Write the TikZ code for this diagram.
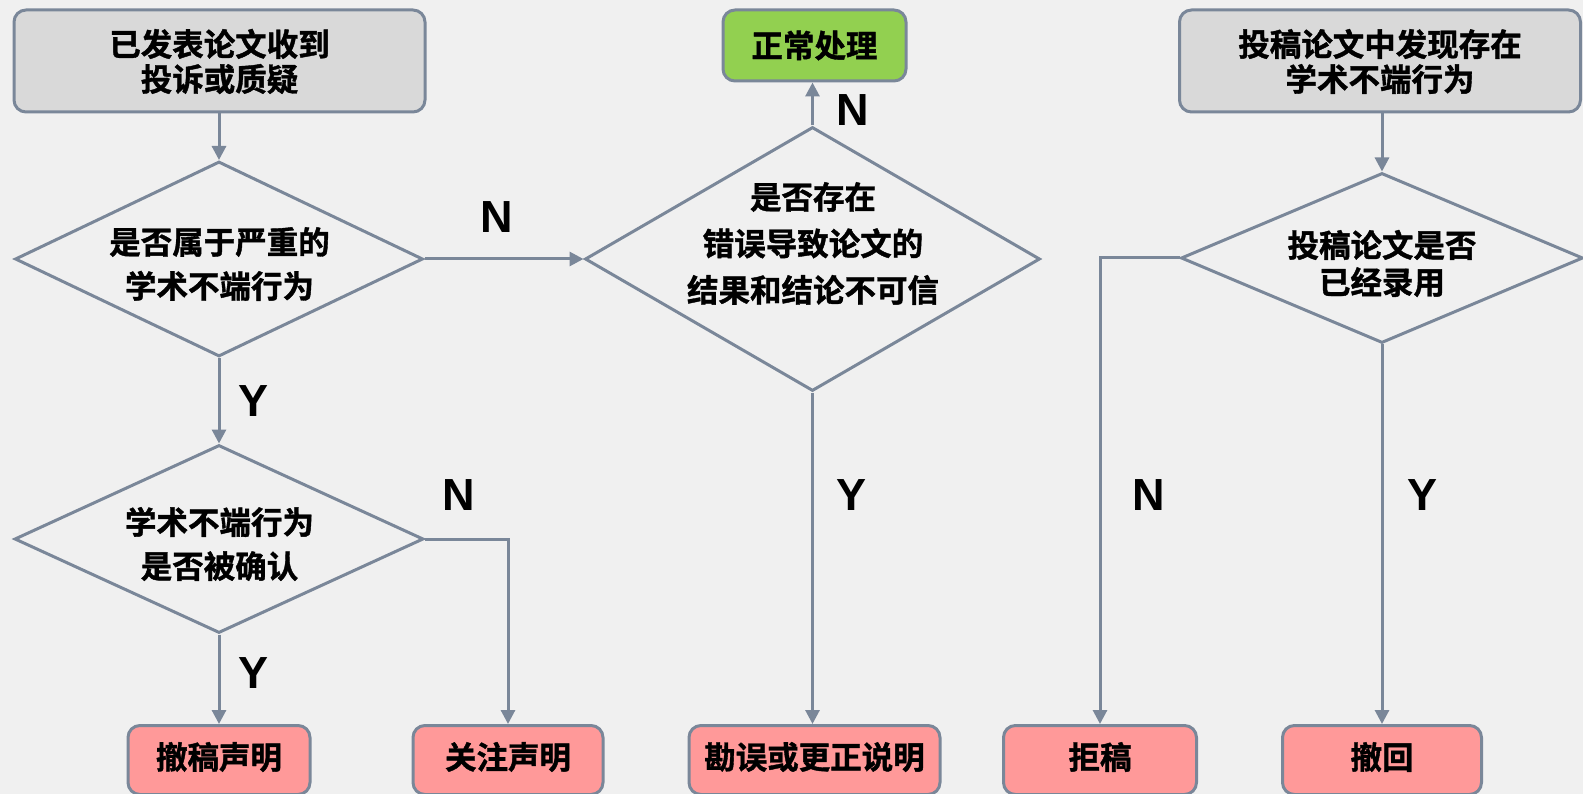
\documentclass[tikz,border=0pt]{standalone}
\usepackage{fontspec}
\setmainfont{Liberation Sans}
\newfontfamily\cjk{Noto Sans CJK SC}[BoldFont=* Bold, BoldFeatures={FakeBold=1.2}]
\usetikzlibrary{shapes.geometric,arrows.meta}
\definecolor{bgc}{RGB}{240,240,240}
\definecolor{edge}{RGB}{122,135,153}
\definecolor{grayfill}{RGB}{217,217,217}
\definecolor{greenfill}{RGB}{146,208,80}
\definecolor{pinkfill}{RGB}{255,153,153}
\tikzset{
  box/.style={draw=edge, line width=3pt, rounded corners=12pt, inner sep=0pt},
  startbox/.style={box, fill=grayfill, minimum width=411, minimum height=102},
  endbox/.style={box, fill=pinkfill, minimum height=69},
  okbox/.style={box, fill=greenfill, minimum width=183, minimum height=71},
  dia/.style={draw=edge, line width=3pt, diamond, inner sep=0pt, fill=bgc},
  txt/.style={align=center, inner sep=0pt, font=\cjk\bfseries\fontsize{31.5}{35}\selectfont},
  txtw/.style={align=center, inner sep=0pt, font=\cjk\bfseries\fontsize{31.5}{44}\selectfont},
  yn/.style={inner sep=0pt, font=\bfseries\fontsize{45}{45}\selectfont},
  conn/.style={draw=edge, line width=3pt, -{Triangle[width=14pt,length=14pt]}},
}
\begin{document}
\begin{tikzpicture}[x=1pt,y=-1pt]
\useasboundingbox (0,0) rectangle (1583,794);
\fill[bgc] (0,0) rectangle (1583,794);

% left column
\node[startbox] (s1) at (219.5,61) {};
\node[txt] (s1t) at (219.5,61.5) {已发表论文收到\\投诉或质疑};
\node[dia, minimum width=408, minimum height=195] (d1) at (219,259) {};
\node[txtw] (d1t) at (219.5,264) {是否属于严重的\\学术不端行为};
\node[dia, minimum width=409, minimum height=188] (d2) at (219,539) {};
\node[txtw] (d2t) at (219.5,544) {学术不端行为\\是否被确认};
\node[endbox, minimum width=182] (e1) at (219,760) {};
\node[txt] (e1t) at (219,757) {撤稿声明};
\node[endbox, minimum width=190] (e2) at (508,760) {};
\node[txt] (e2t) at (508,757) {关注声明};

% middle column
\node[okbox] (ok) at (814.5,45.5) {};
\node[txt] (okt) at (814.5,45.5) {正常处理};
\node[dia, minimum width=455, minimum height=264] (d3) at (812.5,259) {};
\node[txtw, font=\cjk\bfseries\fontsize{31.5}{46.5}\selectfont] (d3t) at (813,243.5) {是否存在\\错误导致论文的\\结果和结论不可信};
\node[endbox, minimum width=251] (e3) at (814.5,760) {};
\node[txt] (e3t) at (814.5,757) {勘误或更正说明};

% right column
\node[startbox, minimum width=401] (s2) at (1380,61) {};
\node[txt] (s2t) at (1380,61.5) {投稿论文中发现存在\\学术不端行为};
\node[dia, minimum width=402, minimum height=170] (d4) at (1382,258) {};
\node[txtw, font=\cjk\bfseries\fontsize{31.5}{37}\selectfont] (d4t) at (1382,263.5) {投稿论文是否\\已经录用};
\node[endbox, minimum width=193] (e4) at (1100,760) {};
\node[txt] (e4t) at (1100,757) {拒稿};
\node[endbox, minimum width=199] (e5) at (1382,760) {};
\node[txt] (e5t) at (1382,757) {撤回};

% connectors
\draw[conn] (s1.south -| d1.north) -- (d1.north);
\draw[conn] (d1.south) -- (d1.south |- d2.north);
\draw[conn] (d2.south) -- (d2.south |- e1.north);
\draw[conn] (d2.east) -| (e2.north);
\draw[conn] (d1.east) -- (d3.west);
\draw[conn] (d3.north) -- (d3.north |- ok.south);
\draw[conn] (d3.south) -- (d3.south |- e3.north);
\draw[conn] (s2.south -| d4.north) -- (d4.north);
\draw[conn] (d4.west) -| (e4.north);
\draw[conn] (d4.south) -- (d4.south |- e5.north);

% labels
\node[yn] (l1) at (254,401) {Y};
\node[yn] (l2) at (254,673) {Y};
\node[yn] (l3) at (459,495) {N};
\node[yn] (l4) at (497,217) {N};
\node[yn] (l5) at (853,110) {N};
\node[yn] (l6) at (851,495) {Y};
\node[yn] (l7) at (1149,495) {N};
\node[yn] (l8) at (1422,495) {Y};
\end{tikzpicture}
\end{document}
